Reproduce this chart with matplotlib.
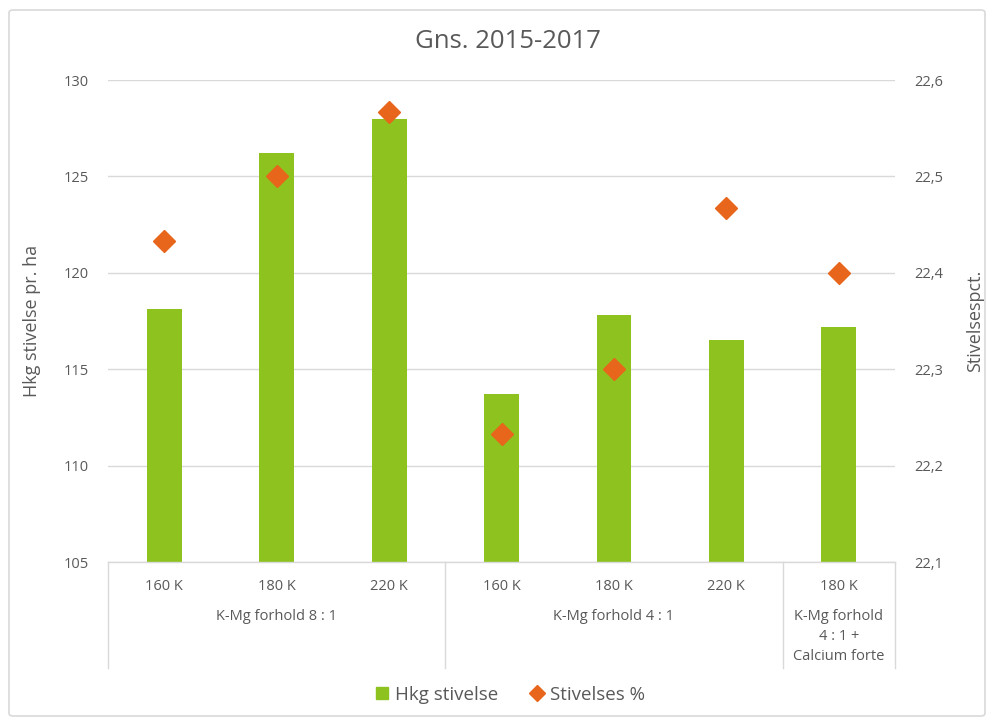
import matplotlib
matplotlib.use("Agg")
import matplotlib.pyplot as plt
from matplotlib.lines import Line2D
from matplotlib.patches import FancyBboxPatch

plt.rcParams['font.family'] = ['Open Sans', 'DejaVu Sans']

categories = ["160 K", "180 K", "220 K", "160 K", "180 K", "220 K", "180 K"]
groups = ["K-Mg forhold 8 : 1", "K-Mg forhold 4 : 1", "K-Mg forhold\n4 : 1 +\nCalcium forte"]
group_sizes = [3, 3, 1]
hkg_stivelse = [118.1, 126.2, 128.0, 113.7, 117.8, 116.5, 117.2]
stivelses_pct = [22.433, 22.50, 22.567, 22.233, 22.30, 22.467, 22.40]
left_ticks = [105, 110, 115, 120, 125, 130]
right_ticks = [22.1, 22.2, 22.3, 22.4, 22.5, 22.6]

bar_color = "#8DC21F"
dot_color = "#E8661C"
text_color = "#595959"
grid_color = "#D9D9D9"

fig = plt.figure(figsize=(9.92, 7.21), dpi=100)
ax = fig.add_axes([0.1089, 0.2205, 0.7933, 0.6685])
ax2 = ax.twinx()

x = list(range(len(categories)))
ax.bar(x, hkg_stivelse, width=0.31, color=bar_color, zorder=2, label="Hkg stivelse")
ax2.plot(x, stivelses_pct, linestyle="none", marker="D", markersize=11,
         color=dot_color, zorder=3, label="Stivelses %")

ax.set_xlim(-0.5, len(categories) - 0.5)
ax.set_ylim(105, 130)
ax2.set_ylim(22.1, 22.6)
ax.set_yticks(left_ticks)
ax.set_yticklabels([str(t) for t in left_ticks])
ax2.set_yticks(right_ticks)
ax2.set_yticklabels([f"{t:.1f}".replace(".", ",") for t in right_ticks])

ax.grid(axis="y", color=grid_color, linewidth=1, zorder=0)
ax.set_axisbelow(True)
for a in (ax, ax2):
    for s in ("top", "left", "right"):
        a.spines[s].set_visible(False)
    a.spines["bottom"].set_visible(False)
    a.tick_params(axis="y", length=0, labelsize=10.5, labelcolor=text_color, pad=14)
ax.tick_params(axis="x", length=0, labelsize=10.5, labelcolor=text_color, pad=12)
ax.set_xticks(x)
ax.set_xticklabels(categories)

ax.set_ylabel("Hkg stivelse pr. ha", fontsize=13, color=text_color, labelpad=16)
ax2.set_ylabel("Stivelsespct.", fontsize=13, color=text_color, labelpad=16)

# multi-level category axis lines
line_kw = dict(color=grid_color, linewidth=1, clip_on=False, transform=ax.transAxes)
ax.add_line(Line2D([0, 1], [0, 0], **line_kw))
n = len(categories)
bounds = [0]
for g in group_sizes:
    bounds.append(bounds[-1] + g)
for b in bounds:
    xf = b / n
    ax.add_line(Line2D([xf, xf], [0, -0.22], **line_kw))
for i, g in enumerate(groups):
    xc = (bounds[i] + bounds[i + 1]) / 2 / n
    ax.text(xc, -0.098, g, transform=ax.transAxes, ha="center", va="top",
            fontsize=10.5, color=text_color, linespacing=1.45)

fig.text(0.512, 0.942, "Gns. 2015-2017", ha="center", va="center",
         fontsize=18.5, color=text_color)

h1, l1 = ax.get_legend_handles_labels()
h2, l2 = ax2.get_legend_handles_labels()
handles = [Line2D([], [], marker="s", linestyle="none", color=bar_color, markersize=9),
           Line2D([], [], marker="D", linestyle="none", color=dot_color, markersize=8)]
fig.legend(handles, l1 + l2, loc="center", bbox_to_anchor=(0.512, 0.036), ncol=2,
           frameon=False, fontsize=13.5, labelcolor=text_color, handletextpad=0.1,
           columnspacing=1.5, handlelength=1.2)

frame = FancyBboxPatch((9 / 992, 5 / 721), 976 / 992, 706 / 721,
                       boxstyle="round,pad=0,rounding_size=0.004",
                       transform=fig.transFigure, fill=False,
                       edgecolor="#D9D9D9", linewidth=1.2)
fig.patches.append(frame)

fig.savefig("out.png", dpi=100)
